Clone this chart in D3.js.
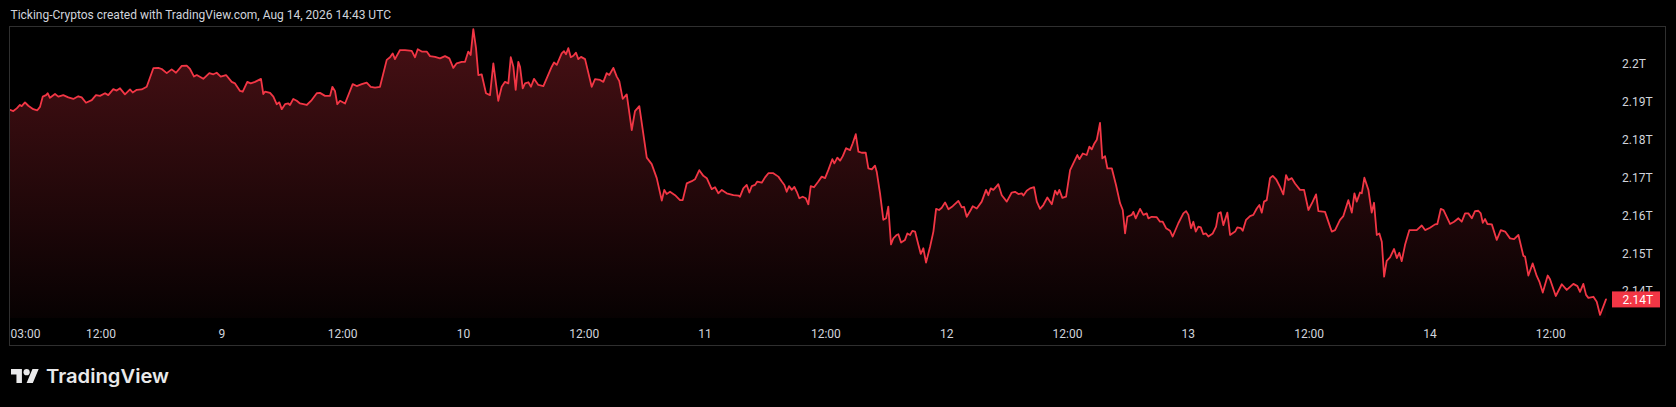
<!DOCTYPE html>
<html><head><meta charset="utf-8">
<script src="https://cdn.jsdelivr.net/npm/d3@7"></script>
<style>html,body{margin:0;padding:0;background:#000;overflow:hidden}svg{display:block}</style>
</head><body><svg id="c" width="1676" height="407"></svg>
<script>
const titleText = "Ticking-Cryptos created with TradingView.com, Aug 14, 2026 14:43 UTC";
const brandText = "TradingView";
// hours since 2026-08-08 00:00 UTC
const hours = [
3.01,3.34,3.68,4.00,4.17,4.50,4.83,5.32,5.72,5.99,
6.26,6.59,6.75,6.98,7.48,7.81,8.30,8.80,9.30,9.79,
10.13,10.56,11.13,11.55,11.95,12.45,12.77,13.27,13.61,13.94,
14.43,14.93,15.20,15.60,16.09,16.59,17.25,17.74,18.08,18.58,
19.07,19.50,20.07,20.56,20.89,21.29,21.56,22.21,22.81,23.21,
23.54,23.94,24.47,25.03,25.36,25.86,26.13,26.58,26.92,27.35,
27.94,28.17,28.34,28.84,29.17,29.50,29.76,30.00,30.33,30.65,
30.82,31.15,31.49,31.82,32.48,32.98,33.48,33.80,34.30,34.80,
35.03,35.29,35.52,35.79,36.29,37.05,37.45,37.95,38.44,38.84,
39.27,39.76,40.43,40.76,41.02,41.25,41.75,42.25,42.91,43.24,
43.51,43.91,44.40,44.73,45.23,45.72,46.22,46.65,47.04,47.38,
47.88,48.21,48.53,48.77,49.03,49.30,49.53,49.86,50.29,50.69,
51.02,51.51,51.85,52.18,52.51,52.75,53.01,53.24,53.50,53.67,
53.94,54.17,54.50,54.76,55.06,55.49,55.99,56.32,56.82,57.05,
57.32,57.81,58.04,58.24,58.47,58.71,58.97,59.23,59.46,59.73,
60.13,60.79,61.12,61.62,61.95,62.28,62.54,62.94,63.28,63.53,
63.87,64.27,64.77,65.09,65.52,66.26,66.75,67.25,67.75,68.00,
68.24,68.57,69.07,69.56,69.83,70.23,70.73,71.05,71.48,71.88,
72.22,72.71,73.04,73.37,73.71,74.20,74.86,75.36,75.52,75.85,
76.19,76.45,76.69,77.01,77.24,77.68,78.01,78.34,78.83,79.33,
79.67,79.93,80.16,80.39,80.66,80.92,81.16,81.41,81.75,82.05,
82.31,82.55,82.87,83.30,83.64,83.97,84.29,84.69,84.89,85.19,
85.46,85.73,86.06,86.45,86.72,87.02,87.28,87.61,88.01,88.27,
88.61,88.93,89.10,89.43,89.76,90.03,90.25,90.52,90.75,91.09,
91.25,91.52,91.91,92.14,92.41,92.64,92.91,93.24,93.48,93.73,
94.00,94.40,94.73,95.00,95.29,95.56,95.89,96.22,96.65,97.21,
97.55,97.78,98.04,98.44,98.64,99.04,99.53,99.96,100.19,100.43,
100.69,101.02,101.18,101.52,102.02,102.51,102.84,103.17,103.51,103.67,
104.00,104.33,104.73,105.00,105.32,105.65,106.05,106.49,106.82,107.04,
107.24,107.54,107.91,108.31,108.63,109.03,109.23,109.57,109.96,110.22,
110.46,110.69,110.96,111.28,111.51,111.78,112.01,112.45,112.87,113.27,
113.54,113.77,114.00,114.43,114.59,114.83,115.26,115.59,115.92,116.08,
116.42,116.92,117.24,117.51,117.84,118.24,118.50,119.06,119.56,119.83,
120.06,120.32,120.55,120.79,121.05,121.29,121.54,121.81,122.04,122.48,
122.81,123.04,123.27,123.53,123.93,124.20,124.70,124.92,125.26,125.46,
125.79,126.18,126.51,126.85,127.11,127.35,127.57,127.84,128.17,128.44,
128.77,129.16,129.49,129.76,129.99,130.33,130.65,131.15,131.55,131.98,
132.41,132.74,132.97,133.63,134.13,134.30,134.63,135.12,135.45,135.95,
136.29,136.55,136.78,137.11,137.28,137.54,137.94,138.27,138.50,138.77,
139.03,139.27,139.50,139.76,140.09,140.49,140.76,141.01,141.25,141.58,
142.01,142.74,143.24,143.57,144.06,144.56,144.79,145.13,145.39,145.72,
146.05,146.45,146.88,147.21,147.54,147.87,148.21,148.53,148.86,149.10,
149.30,149.53,149.76,150.20,150.69,151.09,151.52,152.01,152.41,152.84,
153.33,153.50,153.83,154.26,154.66,154.92,155.26,155.75,155.98,156.55,
157.15,157.64,158.30,158.70,158.96,159.29,159.56,159.79,160.29,160.62,
160.95,161.54];
// market value in trillions
const values = [
2.1877,2.1874,2.1881,2.1890,2.1887,2.1897,2.1888,2.1879,2.1876,2.1885,
2.1912,2.1916,2.1921,2.1909,2.1919,2.1912,2.1916,2.1910,2.1906,2.1913,
2.1910,2.1896,2.1903,2.1916,2.1914,2.1921,2.1916,2.1932,2.1928,2.1934,
2.1918,2.1931,2.1923,2.1930,2.1931,2.1938,2.1987,2.1988,2.1985,2.1974,
2.1984,2.1975,2.1993,2.1994,2.1985,2.1965,2.1969,2.1959,2.1974,2.1971,
2.1975,2.1965,2.1969,2.1951,2.1947,2.1927,2.1925,2.1951,2.1947,2.1951,
2.1959,2.1919,2.1925,2.1922,2.1912,2.1892,2.1897,2.1879,2.1892,2.1894,
2.1890,2.1906,2.1901,2.1894,2.1890,2.1903,2.1921,2.1922,2.1914,2.1914,
2.1938,2.1927,2.1892,2.1901,2.1894,2.1945,2.1940,2.1945,2.1949,2.1938,
2.1936,2.1938,2.2009,2.2016,2.2026,2.2011,2.2035,2.2035,2.2033,2.2016,
2.2037,2.2031,2.2031,2.2019,2.2017,2.2013,2.2019,2.2013,2.1988,2.2000,
2.2004,2.2004,2.2031,2.2022,2.2090,2.2040,2.1969,2.1971,2.1921,2.1916,
2.2000,2.1901,2.1938,2.1951,2.1947,2.2016,2.1991,2.1930,2.2004,2.1991,
2.1934,2.1947,2.1950,2.1938,2.1959,2.1943,2.1940,2.1960,2.1991,2.2002,
2.1996,2.2026,2.2032,2.2024,2.2040,2.2016,2.2020,2.2028,2.2011,2.2017,
2.2011,2.1938,2.1958,2.1956,2.1951,2.1974,2.1969,2.1988,2.1965,2.1953,
2.1906,2.1918,2.1824,2.1874,2.1887,2.1751,2.1734,2.1697,2.1638,2.1666,
2.1655,2.1661,2.1652,2.1639,2.1639,2.1683,2.1689,2.1694,2.1718,2.1703,
2.1697,2.1668,2.1673,2.1657,2.1666,2.1657,2.1652,2.1651,2.1648,2.1670,
2.1679,2.1659,2.1676,2.1679,2.1688,2.1685,2.1699,2.1710,2.1710,2.1701,
2.1688,2.1679,2.1661,2.1676,2.1666,2.1674,2.1661,2.1644,2.1648,2.1644,
2.1628,2.1676,2.1673,2.1688,2.1701,2.1697,2.1718,2.1747,2.1736,2.1751,
2.1743,2.1755,2.1776,2.1771,2.1789,2.1813,2.1767,2.1764,2.1764,2.1723,
2.1720,2.1730,2.1714,2.1657,2.1587,2.1591,2.1622,2.1522,2.1538,2.1547,
2.1549,2.1527,2.1534,2.1551,2.1547,2.1558,2.1556,2.1521,2.1497,2.1512,
2.1474,2.1516,2.1556,2.1616,2.1613,2.1619,2.1633,2.1615,2.1623,2.1637,
2.1620,2.1621,2.1595,2.1613,2.1623,2.1617,2.1635,2.1666,2.1652,2.1670,
2.1666,2.1676,2.1681,2.1652,2.1635,2.1659,2.1661,2.1655,2.1657,2.1651,
2.1664,2.1670,2.1673,2.1635,2.1616,2.1626,2.1646,2.1628,2.1664,2.1654,
2.1666,2.1645,2.1648,2.1718,2.1736,2.1758,2.1747,2.1762,2.1758,2.1780,
2.1773,2.1787,2.1798,2.1843,2.1749,2.1755,2.1723,2.1723,2.1679,2.1631,
2.1613,2.1551,2.1595,2.1600,2.1608,2.1591,2.1616,2.1600,2.1604,2.1591,
2.1595,2.1594,2.1582,2.1582,2.1565,2.1558,2.1543,2.1578,2.1604,2.1610,
2.1600,2.1565,2.1582,2.1556,2.1569,2.1567,2.1549,2.1551,2.1543,2.1551,
2.1569,2.1604,2.1607,2.1573,2.1606,2.1547,2.1556,2.1567,2.1565,2.1558,
2.1587,2.1597,2.1600,2.1617,2.1626,2.1606,2.1635,2.1639,2.1697,2.1703,
2.1694,2.1674,2.1654,2.1705,2.1692,2.1697,2.1683,2.1666,2.1666,2.1613,
2.1635,2.1654,2.1610,2.1608,2.1569,2.1556,2.1560,2.1587,2.1597,2.1639,
2.1606,2.1657,2.1635,2.1659,2.1657,2.1698,2.1666,2.1606,2.1632,2.1547,
2.1551,2.1529,2.1437,2.1479,2.1488,2.1510,2.1486,2.1500,2.1478,2.1521,
2.1560,2.1560,2.1572,2.1560,2.1566,2.1575,2.1576,2.1616,2.1613,2.1595,
2.1576,2.1582,2.1591,2.1582,2.1604,2.1604,2.1591,2.1610,2.1611,2.1604,
2.1579,2.1589,2.1576,2.1575,2.1534,2.1560,2.1556,2.1538,2.1536,2.1547,
2.1492,2.1490,2.1440,2.1472,2.1439,2.1424,2.1395,2.1440,2.1430,2.1386,
2.1417,2.1402,2.1418,2.1412,2.1397,2.1418,2.1389,2.1381,2.1384,2.1371,
2.1336,2.1377];
const yTicks = [2.14, 2.15, 2.16, 2.17, 2.18, 2.19, 2.2];
const yTickLabels = ["2.14T","2.15T","2.16T","2.17T","2.18T","2.19T","2.2T"];
const xTickHours = [3, 12, 24, 36, 48, 60, 72, 84, 96, 108, 120, 132, 144, 156];
const xTickLabels = ["03:00","12:00","9","12:00","10","12:00","11","12:00","12","12:00","13","12:00","14","12:00"];
const lastPriceLabel = "2.14T";

const W = 1676, H = 407;
const FONT = "Roboto, 'Liberation Sans', sans-serif";
const TEXT = "#d1d4dc";
const RED = "#f23645";
const pane = {left: 10, right: 1612, top: 27, bottom: 318};

const svg = d3.select("#c");
svg.append("rect").attr("width", W).attr("height", H).attr("fill", "#000");

const t0 = Date.UTC(2026, 7, 8, 0, 0);
const toDate = h => new Date(t0 + h * 3600000);
const data = hours.map((h, i) => ({t: toDate(h), v: values[i]}));

const x = d3.scaleUtc()
  .domain([toDate(hours[0]), toDate(hours[hours.length - 1])])
  .range([10, 1606]);
const y = d3.scaleLinear().domain([2.14, 2.2]).range([290.7, 63.3]);

const defs = svg.append("defs");
const grad = defs.append("linearGradient").attr("id", "ag")
  .attr("gradientUnits", "userSpaceOnUse")
  .attr("x1", 0).attr("x2", 0).attr("y1", pane.top).attr("y2", pane.bottom);
grad.append("stop").attr("offset", 0).attr("stop-color", RED).attr("stop-opacity", 0.3);
grad.append("stop").attr("offset", 1).attr("stop-color", RED).attr("stop-opacity", 0.03);
defs.append("clipPath").attr("id", "pc").append("rect")
  .attr("x", pane.left).attr("y", pane.top)
  .attr("width", pane.right - pane.left).attr("height", pane.bottom - pane.top);

// title
svg.append("text").attr("x", 10.5).attr("y", 19)
  .attr("font-family", FONT).attr("font-size", 12).attr("fill", TEXT)
  .text(titleText);

// frame
svg.append("rect").attr("x", 9.5).attr("y", 26.5).attr("width", 1656).attr("height", 319)
  .attr("fill", "none").attr("stroke", "#2f2f2f").attr("stroke-width", 1);

const g = svg.append("g").attr("clip-path", "url(#pc)");
g.append("path").datum(data)
  .attr("fill", "url(#ag)")
  .attr("d", d3.area().x(d => x(d.t)).y0(pane.bottom).y1(d => y(d.v)));
g.append("path").datum(data)
  .attr("fill", "none").attr("stroke", RED).attr("stroke-width", 1.8)
  .attr("stroke-linejoin", "round").attr("stroke-linecap", "round")
  .attr("d", d3.line().x(d => x(d.t)).y(d => y(d.v)));

// y axis (price scale)
const yAxis = svg.append("g").attr("transform", "translate(1622,0)")
  .call(d3.axisRight(y).tickValues(yTicks).tickFormat((d, i) => yTickLabels[i]).tickSize(0).tickPadding(0));
yAxis.select(".domain").remove();
yAxis.selectAll("text").attr("font-family", FONT).attr("font-size", 12)
  .attr("fill", TEXT).attr("x", 0).attr("dy", "0.35em").attr("text-anchor", "start");

// x axis (time scale)
const xAxis = svg.append("g").attr("transform", "translate(0,333.5)")
  .call(d3.axisBottom(x).tickValues(xTickHours.map(toDate)).tickFormat((d, i) => xTickLabels[i]).tickSize(0).tickPadding(0));
xAxis.select(".domain").remove();
xAxis.selectAll("text").attr("font-family", FONT).attr("font-size", 12)
  .attr("fill", TEXT).attr("y", 0).attr("dy", "0.35em");
xAxis.selectAll(".tick").each(function() {
  const tk = d3.select(this);
  const tx = tk.select("text");
  const w = tx.node().getComputedTextLength();
  const m = /translate\(([-\d.]+)/.exec(tk.attr("transform"));
  const cx = m ? +m[1] : 0;
  if (cx - w / 2 < 10.5) tx.attr("text-anchor", "start").attr("x", 10.5 - cx);
});

// last price label
const lastV = values[values.length - 1];
const ly = y(lastV);
svg.append("rect").attr("x", 1612).attr("y", ly - 8).attr("width", 48).attr("height", 16).attr("fill", RED);
svg.append("text").attr("x", 1622.5).attr("y", ly).attr("dy", "0.35em")
  .attr("font-family", FONT).attr("font-size", 12).attr("fill", "#ffffff")
  .text(lastPriceLabel);

// TradingView brand
const logo = svg.append("g").attr("transform", "translate(11,365.9) scale(0.78)").attr("fill", "#e9e9ea");
logo.append("path").attr("d", "M14 22H7V11H0V4h14v18zM28 22h-8l7.5-18h8L28 22z");
logo.append("circle").attr("cx", 20).attr("cy", 8).attr("r", 4);
svg.append("text").attr("x", 46).attr("y", 383)
  .attr("font-family", "Inter, Roboto, sans-serif").attr("font-weight", 600)
  .attr("font-size", 19).attr("fill", "#e9e9ea")
  .attr("textLength", 123).attr("lengthAdjust", "spacingAndGlyphs")
  .text(brandText);
</script>
</body></html>
